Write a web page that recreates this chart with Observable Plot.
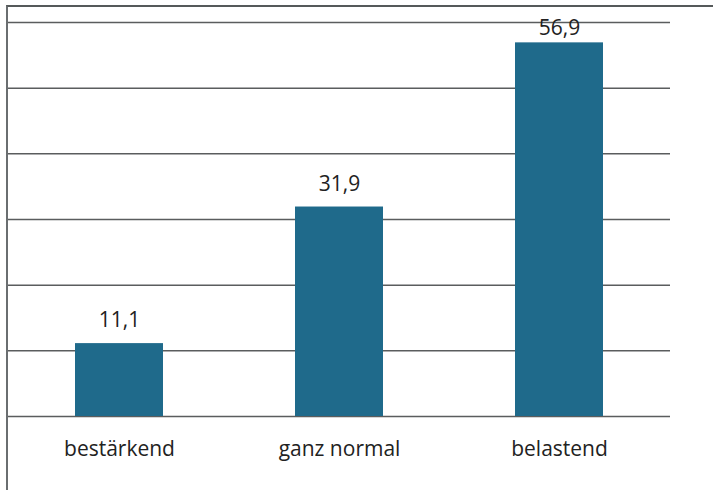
<!DOCTYPE html>
<html><head><meta charset="utf-8">
<script src="https://cdn.jsdelivr.net/npm/d3@7"></script>
<script src="https://cdn.jsdelivr.net/npm/@observablehq/plot@0.6"></script>
<style>
html,body{margin:0;padding:0;background:#fff;}
#wrap{position:relative;width:713px;height:490px;overflow:hidden;}
#frame{position:absolute;left:6px;top:5px;width:720px;height:500px;border-left:2px solid #6a6e70;border-top:2px solid #55595a;box-sizing:border-box;}
#chart{position:absolute;left:0;top:0;}
</style>
</head><body>
<div id="wrap"><div id="frame"></div><div id="chart"></div></div>
<script>
const categories = ["bestärkend", "ganz normal", "belastend"];
const values = [11.1, 31.9, 56.9];
const labels = ["11,1", "31,9", "56,9"];
const gridTicks = [0, 10, 20, 30, 40, 50, 60];

const data = categories.map((c, i) => ({cat: c, value: values[i], label: labels[i]}));

const chart = Plot.plot({
  width: 713,
  height: 490,
  marginLeft: 8,
  marginRight: 43,
  marginTop: 22,
  marginBottom: 74,
  style: {fontFamily: "'Open Sans', sans-serif", background: "transparent"},
  x: {domain: categories, paddingInner: 0.6, paddingOuter: 0.3, label: null},
  y: {domain: [0, 60], axis: null},
  marks: [
    Plot.ruleY(gridTicks, {stroke: "#5a5d5e", strokeWidth: 1.5}),
    Plot.barY(data, {x: "cat", y: "value", fill: "#1f6a8b"}),
    Plot.text(data, {filter: d => d.value < 50, x: "cat", y: "value", text: "label", dy: -23, fontSize: 21, fill: "#222"}),
    Plot.text(data, {filter: d => d.value >= 50, x: "cat", y: "value", text: "label", dy: -15, fontSize: 21, fill: "#222"}),
    Plot.axisX({tickSize: 0, tickPadding: 25, fontSize: 21, fill: "#222", label: null})
  ]
});
document.getElementById("chart").appendChild(chart);
</script>
</body></html>
